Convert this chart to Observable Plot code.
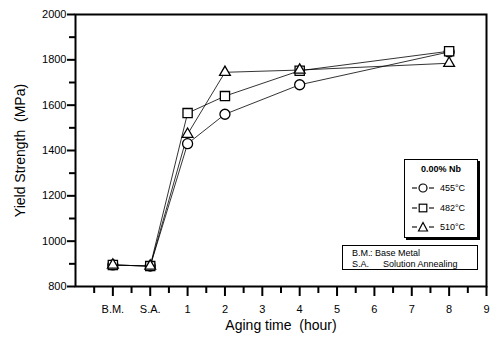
<!DOCTYPE html>
<html><head><meta charset="utf-8">
<script src="https://cdn.jsdelivr.net/npm/d3@7"></script>
<script src="https://cdn.jsdelivr.net/npm/@observablehq/plot@0.6"></script>
<style>
body{margin:0;background:#fff;font-family:"Liberation Sans",Arial,sans-serif;}
#wrap{position:relative;width:501px;height:347px;overflow:hidden;}
.box{position:absolute;background:#fff;border:1px solid #000;box-sizing:border-box;color:#000;}
.row{position:absolute;left:0;white-space:pre;font-size:9px;line-height:10px;}
</style></head><body><div id="wrap"></div>
<script>
// ---- data ----
const categories = ["B.M.", "S.A.", "1", "2", "4", "8"];
const agingPos = [-1, 0, 1, 2, 4, 8];
const ys455 = [895, 890, 1430, 1560, 1690, 1835];
const ys482 = [895, 890, 1565, 1640, 1752, 1838];
const ys510 = [895, 890, 1472, 1745, 1755, 1785];
const seriesNames = ["455°C", "482°C", "510°C"];
const seriesSymbols = ["circle", "square", "triangle"];
const xTickValues = [-1, 0, 1, 2, 3, 4, 5, 6, 7, 8, 9];
const xTickLabels = ["B.M.", "S.A.", "1", "2", "3", "4", "5", "6", "7", "8", "9"];
const xMinorTicks = [-1.5, -0.5, 0.5, 1.5, 2.5, 3.5, 4.5, 5.5, 6.5, 7.5, 8.5];
const yTicks = [800, 1000, 1200, 1400, 1600, 1800, 2000];
const yMinorTicks = [900, 1100, 1300, 1500, 1700, 1900];
const legendTitle = "0.00% Nb";
const noteLines = [["B.M.", ":", "Base Metal"], ["S.A.", "", "Solution Annealing"]];
const xLabel = "Aging time\u00a0\u00a0(hour)";
const yLabel = "Yield Strength\u00a0\u00a0(MPa)";

const seriesValues = [ys455, ys482, ys510];
const symbolR = {circle: 5, square: 5.2, triangle: 4};
const data = [];
seriesNames.forEach((s, i) => agingPos.forEach((x, j) =>
  data.push({series: s, x, y: seriesValues[i][j], cat: categories[j]})));

const plot = Plot.plot({
  width: 501, height: 347,
  marginLeft: 75, marginRight: 15, marginTop: 14, marginBottom: 61,
  style: {fontFamily: "Liberation Sans, Arial, sans-serif", fontSize: "11px", color: "#000", background: "#fff"},
  x: {domain: [-2, 9]},
  y: {domain: [800, 2000]},
  symbol: {domain: seriesNames, range: seriesSymbols},
  marks: [
    Plot.axisX({anchor: "bottom", ticks: xMinorTicks, tickSize: 7, tickFormat: () => "", label: null, stroke: "#000", strokeWidth: 2}),
    Plot.axisX({anchor: "bottom", ticks: xTickValues, tickSize: 10, tickPadding: 9, stroke: "#000", strokeWidth: 2,
      tickFormat: d => xTickLabels[xTickValues.indexOf(d)], label: null}),
    Plot.axisY({anchor: "left", ticks: yMinorTicks, tickSize: 6, tickFormat: () => "", label: null, stroke: "#000", strokeWidth: 2}),
    Plot.axisY({anchor: "left", ticks: yTicks, tickSize: 8, tickPadding: 1, stroke: "#000", strokeWidth: 2, tickFormat: d => String(d), label: null}),
    Plot.frame({stroke: "#000", strokeWidth: 2}),
    Plot.line(data, {x: "x", y: "y", z: "series", stroke: "#000", strokeWidth: 0.8}),
    ...seriesNames.map((s, i) => Plot.dot(data.filter(d => d.series === s),
      {x: "x", y: "y", symbol: "series", r: symbolR[seriesSymbols[i]], stroke: "#000", fill: "#fff", strokeWidth: 1.3})),
    Plot.text([xLabel], {frameAnchor: "bottom", dy: 43, fontSize: 14, textAnchor: "middle", text: d => d}),
    Plot.text([yLabel], {frameAnchor: "left", dx: -55, rotate: -90, fontSize: 14, textAnchor: "middle", text: d => d})
  ]
});
const wrap = document.getElementById("wrap");
wrap.appendChild(plot);

// legend box
const sym = {
  circle: '<circle cx="12" cy="6" r="4" fill="#fff" stroke="#000" stroke-width="1.2"/>',
  square: '<rect x="8.2" y="2.2" width="7.6" height="7.6" fill="#fff" stroke="#000" stroke-width="1.2"/>',
  triangle: '<path d="M12 1.5 L16.5 10 L7.5 10 Z" fill="#fff" stroke="#000" stroke-width="1.2"/>'
};
const lg = document.createElement("div");
lg.className = "box";
lg.style.cssText = "left:404px;top:159px;width:74px;height:79px;box-shadow:2px 2px 0 #000;";
let html = `<div class="row" style="top:4px;width:100%;text-align:center;font-weight:bold;">${legendTitle}</div>`;
seriesNames.forEach((s, i) => {
  const top = 22 + i * 19.5;
  html += `<svg style="position:absolute;left:6px;top:${top}px" width="24" height="12">
    <line x1="1" y1="6" x2="6" y2="6" stroke="#000" stroke-width="1.1"/>
    <line x1="18" y1="6" x2="23" y2="6" stroke="#000" stroke-width="1.1"/>${sym[seriesSymbols[i]]}</svg>
    <div class="row" style="left:35px;top:${top + 1}px">${s}</div>`;
});
lg.innerHTML = html;
wrap.appendChild(lg);

// note box
const nb = document.createElement("div");
nb.className = "box";
nb.style.cssText = "left:342px;top:245px;width:136px;height:25px;";
let nh = "";
noteLines.forEach((l, i) => {
  const top = 2 + i * 11;
  nh += `<div class="row" style="left:9px;top:${top}px">${l[0]}</div>
         <div class="row" style="left:27px;top:${top}px">${l[1]}</div>
         <div class="row" style="left:${i === 0 ? 32 : 40}px;top:${top}px">${l[2]}</div>`;
});
nb.innerHTML = nh;
wrap.appendChild(nb);
</script></body></html>
